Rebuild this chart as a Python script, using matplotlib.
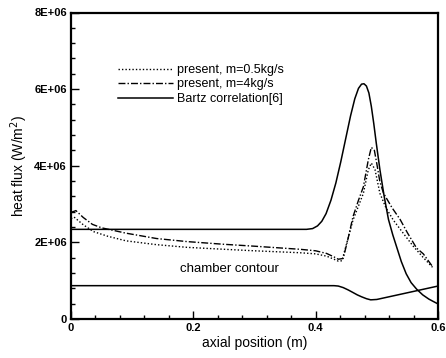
import matplotlib
matplotlib.use("Agg")
import matplotlib.pyplot as plt
from matplotlib.ticker import MultipleLocator

plt.rcParams['font.family'] = ['Liberation Sans', 'DejaVu Sans']

# Bartz correlation (W/m^2, in units of 1E6)
bartz_x = [0.0, 0.385, 0.395, 0.403, 0.41, 0.417, 0.425, 0.433, 0.441, 0.449, 0.457, 0.464,
           0.470, 0.475, 0.479, 0.483, 0.487, 0.491, 0.495, 0.499, 0.505, 0.512, 0.519,
           0.526, 0.533, 0.540, 0.548, 0.556, 0.565, 0.575, 0.585, 0.592, 0.598]
bartz_y = [2.34, 2.34, 2.36, 2.43, 2.55, 2.75, 3.10, 3.55, 4.10, 4.70, 5.30, 5.75,
           6.02, 6.13, 6.14, 6.08, 5.90, 5.55, 5.10, 4.60, 3.90, 3.20, 2.60,
           2.20, 1.85, 1.50, 1.18, 0.95, 0.78, 0.63, 0.52, 0.46, 0.41]

# present, m=4kg/s
m4_x = [0.0, 0.008, 0.02, 0.035, 0.05, 0.09, 0.14, 0.19, 0.25, 0.30, 0.374, 0.40, 0.418,
        0.43, 0.437, 0.445, 0.453, 0.461, 0.470, 0.478, 0.486, 0.491, 0.496, 0.500, 0.505,
        0.511, 0.525, 0.538, 0.550, 0.565, 0.576, 0.591]
m4_y = [2.78, 2.83, 2.65, 2.47, 2.38, 2.24, 2.10, 2.02, 1.95, 1.90, 1.82, 1.78, 1.71,
        1.62, 1.56, 1.58, 2.10, 2.67, 3.10, 3.45, 4.15, 4.48, 4.40, 4.05, 3.58,
        3.28, 2.90, 2.60, 2.25, 1.85, 1.70, 1.37]

# present, m=0.5kg/s
m05_x = [0.0, 0.005, 0.02, 0.037, 0.06, 0.09, 0.14, 0.19, 0.25, 0.30, 0.374, 0.40, 0.418,
         0.43, 0.437, 0.443, 0.452, 0.461, 0.470, 0.478, 0.486, 0.491, 0.497, 0.505,
         0.515, 0.527, 0.545, 0.560, 0.575, 0.591]
m05_y = [2.62, 2.66, 2.46, 2.28, 2.16, 2.04, 1.94, 1.87, 1.82, 1.78, 1.73, 1.70, 1.64,
         1.56, 1.51, 1.52, 2.05, 2.58, 2.95, 3.28, 3.89, 4.07, 3.90, 3.28,
         2.90, 2.58, 2.20, 1.89, 1.62, 1.35]

# chamber contour (scaled)
cont_x = [0.0, 0.43, 0.437, 0.445, 0.453, 0.46, 0.468, 0.475, 0.483, 0.49, 0.50, 0.60]
cont_y = [0.87, 0.87, 0.86, 0.82, 0.76, 0.70, 0.63, 0.58, 0.53, 0.50, 0.51, 0.86]

labels = ["present, m=0.5kg/s", "present, m=4kg/s", "Bartz correlation[6]"]
xtick_vals = [0.0, 0.2, 0.4, 0.6]
xtick_labels = ["0", "0.2", "0.4", "0.6"]
ytick_vals = [0, 2, 4, 6, 8]
ytick_labels = ["0", "2E+06", "4E+06", "6E+06", "8E+06"]

fig = plt.figure(figsize=(4.46, 3.58), dpi=100)
ax = fig.add_axes([71/446, 1-319/358, 367/446, 306.5/358])

ax.plot(m05_x, m05_y, color='black', lw=1.0, linestyle=(0, (1, 1.5)), label=labels[0])
ax.plot(m4_x, m4_y, color='black', lw=1.0, linestyle=(0, (5, 1.5, 1, 1.5)), label=labels[1])
ax.plot(bartz_x, bartz_y, color='black', lw=1.1, linestyle='-', label=labels[2])
ax.plot(cont_x, cont_y, color='black', lw=1.1, linestyle='-')

ax.text(0.178, 1.3, "chamber contour", fontsize=9.5, va='center', ha='left')

ax.set_xlim(0, 0.6)
ax.set_ylim(0, 8)
ax.set_xticks(xtick_vals)
ax.set_xticklabels(xtick_labels, fontweight='bold', fontsize=8)
ax.set_yticks(ytick_vals)
ax.set_yticklabels(ytick_labels, fontweight='bold', fontsize=8)
ax.xaxis.set_minor_locator(MultipleLocator(0.04))
ax.yaxis.set_minor_locator(MultipleLocator(0.4))
ax.tick_params(which='both', direction='in', top=False, right=False, width=1.0)
ax.tick_params(which='major', length=6, pad=3)
ax.tick_params(which='minor', length=3)
for s in ax.spines.values():
    s.set_linewidth(1.6)

ax.set_xlabel("axial position (m)", fontsize=10, labelpad=2)
ax.set_ylabel("heat flux (W/m$^2$)", fontsize=10, labelpad=3)

ax.legend(loc='upper left', bbox_to_anchor=(0.128, 0.832), frameon=False, fontsize=9,
          handlelength=4.4, handletextpad=0.35, labelspacing=0.2, borderpad=0, borderaxespad=0)

fig.savefig("out.png", dpi=100)
